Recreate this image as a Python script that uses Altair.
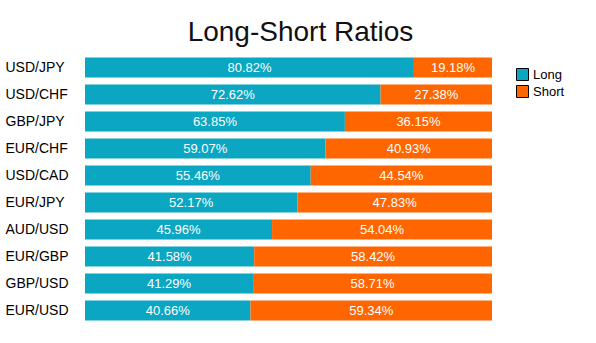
import altair as alt
import pandas as pd

pairs = ["USD/JPY", "USD/CHF", "GBP/JPY", "EUR/CHF", "USD/CAD",
         "EUR/JPY", "AUD/USD", "EUR/GBP", "GBP/USD", "EUR/USD"]
long_vals = [80.82, 72.62, 63.85, 59.07, 55.46, 52.17, 45.96, 41.58, 41.29, 40.66]
short_vals = [19.18, 27.38, 36.15, 40.93, 44.54, 47.83, 54.04, 58.42, 58.71, 59.34]
series = ["Long", "Short"]
colors = ["#0aa6c2", "#ff6600"]

rows = []
for p, l, s in zip(pairs, long_vals, short_vals):
    rows.append({"pair": p, "side": "Long", "value": l, "ord": 0, "start": 0.0, "end": l})
    rows.append({"pair": p, "side": "Short", "value": s, "ord": 1, "start": l, "end": l + s})
df = pd.DataFrame(rows)
df["mid"] = (df["start"] + df["end"]) / 2
df["label"] = df["value"].map(lambda v: f"{v:.2f}%")

font = "Liberation Sans"

base = alt.Chart(df)
bars = base.mark_bar(size=20).encode(
    y=alt.Y("pair:N", sort=pairs, title=None,
            axis=alt.Axis(labelAlign="left", labelPadding=80, ticks=False, domain=False,
                          labelFontSize=14, labelFont=font, labelColor="#000")),
    x=alt.X("start:Q", scale=alt.Scale(domain=[0, 100]), axis=None),
    x2="end:Q",
    color=alt.Color("side:N", scale=alt.Scale(domain=series, range=colors),
                    legend=alt.Legend(title=None, orient="none", legendX=431, legendY=14,
                                      symbolType="square", symbolSize=144,
                                      symbolStrokeColor="#000", symbolStrokeWidth=1,
                                      labelFont=font, labelFontSize=13, rowPadding=0,
                                      labelColor="#000", symbolOpacity=1)),
)
texts = base.mark_text(color="white", font=font, fontSize=13).encode(
    y=alt.Y("pair:N", sort=pairs),
    x=alt.X("mid:Q"),
    text="label:N",
)

chart = (bars + texts).properties(
    width=407, height=270,
    title=alt.TitleParams("Long-Short Ratios", font=font, fontSize=28, fontWeight="normal",
                          color="#111", anchor="middle", offset=7, dx=12),
    padding={"left": 85, "top": 54, "right": 104, "bottom": 19},
    autosize=alt.AutoSizeParams(type="none"),
).configure_view(stroke=None).configure_scale(bandPaddingInner=0.26)

chart.save("out.html", embed_options={"renderer": "svg", "actions": False})
